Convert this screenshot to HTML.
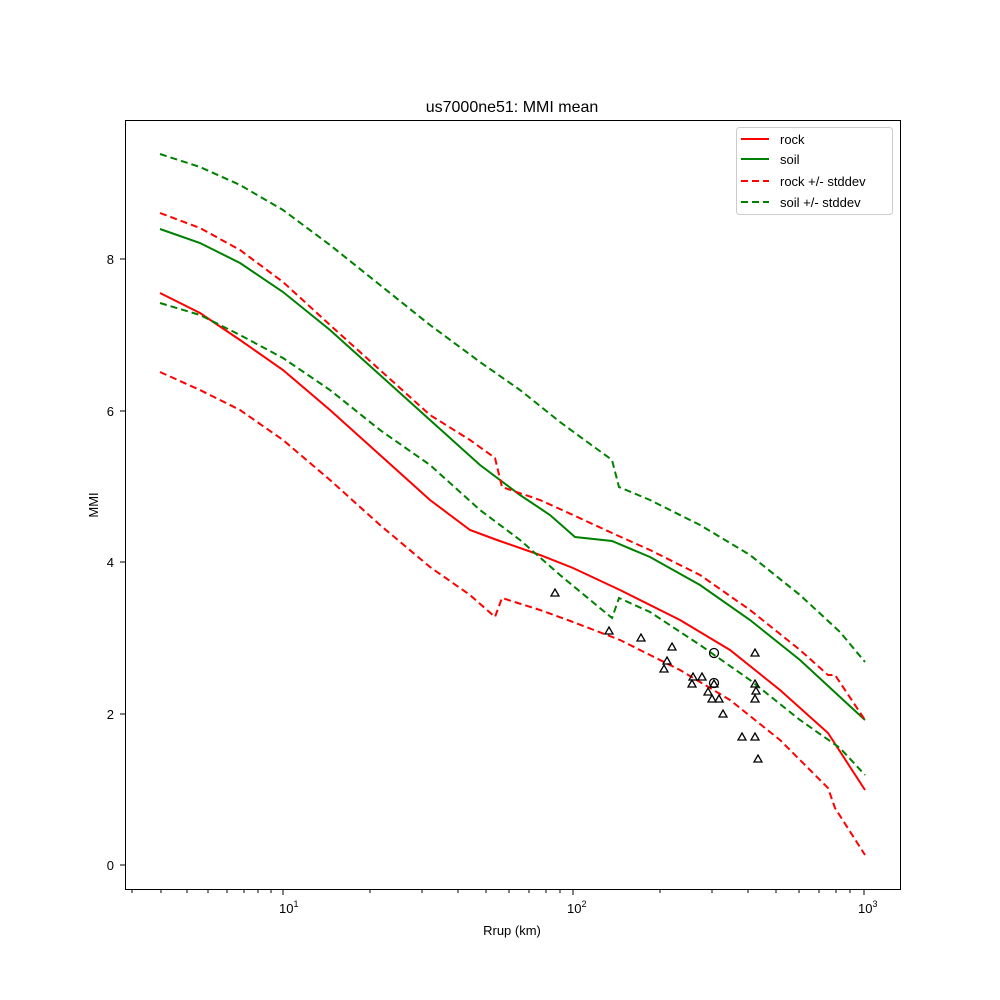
<!DOCTYPE html>
<html><head><style>body{margin:0;background:#fff}svg{display:block}</style></head><body>
<svg width="1000" height="1000" xmlns="http://www.w3.org/2000/svg" font-family="Liberation Sans, sans-serif">
<rect width="1000" height="1000" fill="#fff"/>
<text x="512" y="112" font-size="16" text-anchor="middle">us7000ne51: MMI mean</text>
<g fill="none" stroke-width="2">
<polyline stroke="red" points="160,293 200,313 240,340 283,370 330,410 380,455 430,500 470,530 497,540 540,555 573,568 620,590 680,620 730,650 780,690 828,733 865,790"/>
<polyline stroke="green" points="160,229 200,243 240,263 283,292 330,330 380,375 430,420 480,465 520,495 550,515 575,537 612,541 650,557 700,585 750,620 800,660 840,697 865,720"/>
<polyline stroke="red" stroke-dasharray="7,4" points="160,213 200,228 240,250 283,282 330,325 380,370 430,415 470,440 495,458 502,487 540,500 573,515 612,533 650,550 700,575 750,610 800,650 828,675 835,675 865,720"/>
<polyline stroke="red" stroke-dasharray="7,4" points="160,372 200,390 240,410 283,440 330,480 380,525 430,567 470,595 495,617 502,598 540,610 573,622 620,640 680,670 730,700 780,740 828,788 835,808 865,855"/>
<polyline stroke="green" stroke-dasharray="7,4" points="160,154 200,167 240,185 283,210 330,245 380,285 430,325 480,362 520,390 560,422 612,460 619,487 650,500 700,525 750,555 800,595 840,632 865,662"/>
<polyline stroke="green" stroke-dasharray="7,4" points="160,303 200,315 240,335 283,358 330,390 380,430 430,465 480,510 520,540 560,575 612,618 619,598 650,612 700,645 750,680 800,720 840,748 865,775"/>
</g>
<g fill="none" stroke="#000" stroke-width="1.3">
<g id="m">
<path d="M555,589 l4,7 h-8z"/><path d="M609,627 l4,7 h-8z"/><path d="M641,634 l4,7 h-8z"/><path d="M672,643 l4,7 h-8z"/><path d="M667,657 l4,7 h-8z"/><path d="M664,665 l4,7 h-8z"/><path d="M693,673 l4,7 h-8z"/><path d="M702,673 l4,7 h-8z"/><path d="M692,680 l4,7 h-8z"/><path d="M714,680 l4,7 h-8z"/><path d="M708,688 l4,7 h-8z"/><path d="M712,695 l4,7 h-8z"/><path d="M719,695 l4,7 h-8z"/><path d="M723,710 l4,7 h-8z"/><path d="M742,733 l4,7 h-8z"/><path d="M755,733 l4,7 h-8z"/><path d="M758,755 l4,7 h-8z"/><path d="M755,649 l4,7 h-8z"/><path d="M755,680 l4,7 h-8z"/><path d="M756,687 l4,7 h-8z"/><path d="M755,695 l4,7 h-8z"/>
</g>
<circle cx="714" cy="653" r="4.5"/><circle cx="714" cy="683" r="4.5"/>
</g>
<rect x="125.5" y="120.5" width="775" height="769" fill="none" stroke="#000"/>
<g stroke="#000" stroke-width="1">
<line x1="283" y1="890" x2="283" y2="895"/><line x1="573" y1="890" x2="573" y2="895"/><line x1="864" y1="890" x2="864" y2="895"/>
<path d="M132,890v3M161,890v3M187,890v3M208,890v3M227,890v3M244,890v3M258,890v3M271,890v3M370,890v3M422,890v3M458,890v3M486,890v3M509,890v3M529,890v3M546,890v3M560,890v3M660,890v3M712,890v3M748,890v3M776,890v3M799,890v3M819,890v3M836,890v3M850,890v3"/>
<path d="M120,865h5M120,714h5M120,562h5M120,411h5M120,259h5"/>
</g>
<g font-size="13">
<text x="114" y="870" text-anchor="end">0</text><text x="114" y="719" text-anchor="end">2</text><text x="114" y="567" text-anchor="end">4</text><text x="114" y="416" text-anchor="end">6</text><text x="114" y="264" text-anchor="end">8</text>
<text x="279" y="913">10<tspan font-size="9" dy="-6">1</tspan></text>
<text x="567" y="913">10<tspan font-size="9" dy="-6">2</tspan></text>
<text x="858" y="913">10<tspan font-size="9" dy="-6">3</tspan></text>
<text x="512" y="935" text-anchor="middle">Rrup (km)</text>
<text transform="translate(98,505) rotate(-90)" text-anchor="middle">MMI</text>
</g>
<rect x="736.5" y="127.5" width="156" height="87" rx="3" fill="#fff" stroke="#ccc"/>
<g stroke-width="2">
<line x1="741" y1="139" x2="769" y2="139" stroke="red"/>
<line x1="741" y1="159" x2="769" y2="159" stroke="green"/>
<line x1="741" y1="181" x2="769" y2="181" stroke="red" stroke-dasharray="7,4"/>
<line x1="741" y1="202" x2="769" y2="202" stroke="green" stroke-dasharray="7,4"/>
</g>
<g font-size="13">
<text x="780" y="144">rock</text><text x="780" y="164">soil</text><text x="780" y="186">rock +/- stddev</text><text x="780" y="207">soil +/- stddev</text>
</g>
</svg>
</body></html>
